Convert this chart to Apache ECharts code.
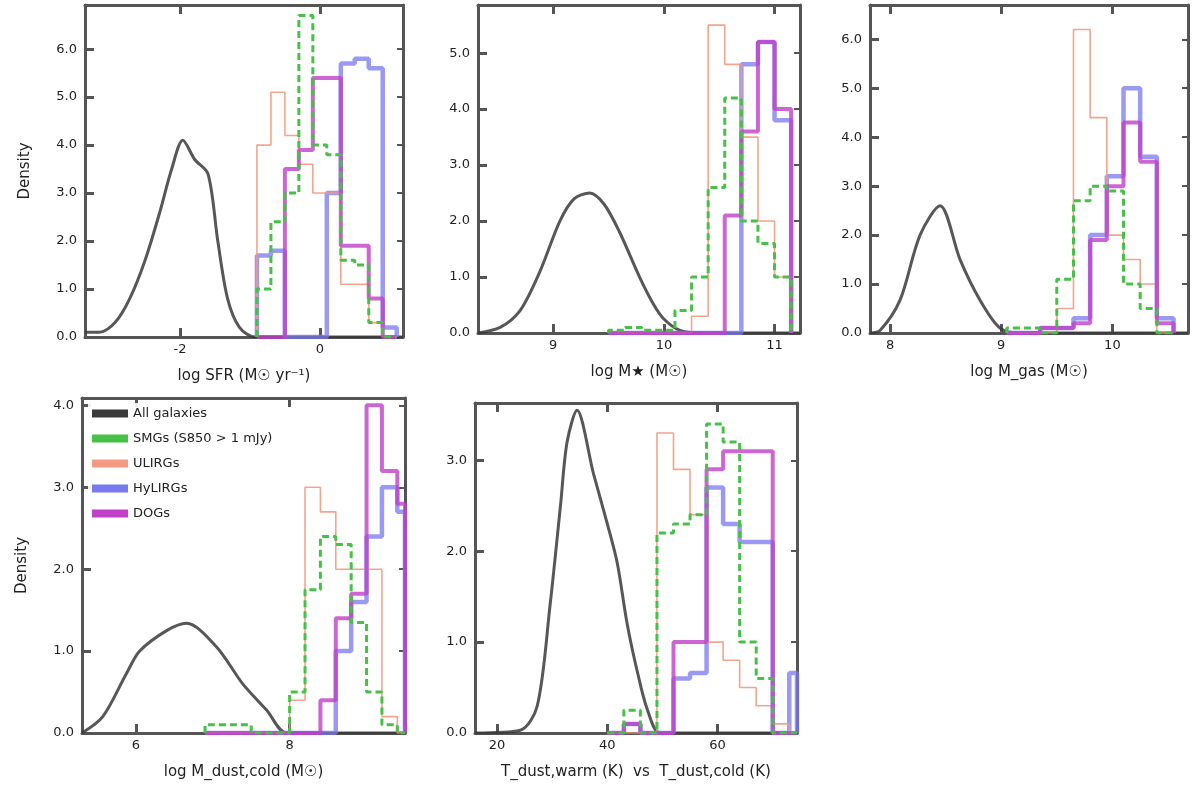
<!DOCTYPE html>
<html><head><meta charset="utf-8">
<script src="https://cdn.jsdelivr.net/npm/echarts@6/dist/echarts.min.js"></script>
<style>html,body{margin:0;padding:0;background:#fff}#c{width:1200px;height:804px}</style>
</head><body><div id="c"></div>
<script>
// ---------- DATA ----------
const seriesNames = ["All galaxies", "SMGs (S850 > 1 mJy)", "ULIRGs", "HyLIRGs", "DOGs"];

// Panel 1 : log SFR
const p1BlackX = [-3.36,-3.15,-2.93,-2.72,-2.5,-2.29,-2.12,-1.96,-1.79,-1.6,-1.46,-1.32,-1.15,-0.93,-0.5,0.0,0.5,1.19];
const p1BlackY = [0.1,0.1,0.3,0.8,1.6,2.6,3.5,4.1,3.7,3.4,2.0,0.8,0.2,0.0,0.0,0.0,0.0,0.0];
const p1Edges  = [-0.9,-0.7,-0.5,-0.3,-0.1,0.1,0.3,0.5,0.7,0.9,1.1];
const p1Green  = [1.0,2.4,3.0,6.7,4.0,3.8,1.6,1.5,0.3,0.0];
const p1Salmon = [4.0,5.1,4.2,3.6,3.0,3.0,1.1,1.1,0.3,0.0];
const p1Blue   = [1.7,1.8,0.0,0.0,0.0,3.0,5.7,5.8,5.6,0.2];
const p1Mag    = [0.0,0.0,3.5,3.9,5.4,5.4,1.9,1.9,0.8,0.0];

// Panel 2 : log M*
const p2BlackX = [8.32,8.52,8.70,8.88,9.06,9.19,9.33,9.46,9.60,9.78,9.91,10.0,10.14,10.32,10.8,11.23];
const p2BlackY = [0.0,0.1,0.4,1.1,2.0,2.4,2.5,2.3,1.8,1.0,0.5,0.25,0.05,0.0,0.0,0.0];
const p2Edges  = [9.5,9.65,9.8,9.95,10.1,10.25,10.4,10.55,10.7,10.85,11.0,11.15];
const p2Green  = [0.05,0.1,0.05,0.05,0.4,1.0,2.6,4.2,2.0,1.6,1.0];
const p2Salmon = [0.0,0.0,0.0,0.0,0.0,0.3,5.5,4.8,3.5,2.0,1.0];
const p2Blue   = [0.0,0.0,0.0,0.0,0.0,0.0,0.0,0.0,4.8,5.2,3.8];
const p2Mag    = [0.0,0.0,0.0,0.0,0.0,0.0,0.0,2.1,3.6,5.2,4.0];

// Panel 3 : log M_gas
const p3BlackX = [7.82,7.91,8.09,8.27,8.45,8.63,8.81,8.99,9.17,9.35,9.9,10.68];
const p3BlackY = [0.0,0.05,0.67,2.0,2.6,1.5,0.67,0.1,0.0,0.0,0.0,0.0];
const p3Edges  = [9.05,9.2,9.35,9.5,9.65,9.8,9.95,10.1,10.25,10.4,10.55];
const p3Green  = [0.1,0.1,0.0,1.1,2.7,3.0,2.9,1.0,0.5,0.0];
const p3Salmon = [0.0,0.0,0.0,0.5,6.2,4.4,2.0,1.5,1.0,0.0];
const p3Blue   = [0.0,0.0,0.1,0.1,0.3,2.0,3.2,5.0,3.6,0.3];
const p3Mag    = [0.0,0.0,0.1,0.1,0.2,1.9,3.0,4.3,3.5,0.2];

// Panel 4 : log M_dust,cold
const p4BlackX = [5.3,5.57,5.88,6.05,6.4,6.66,7.05,7.39,7.7,7.96,8.5,9.5];
const p4BlackY = [0.0,0.2,0.73,1.0,1.25,1.34,1.05,0.6,0.28,0.0,0.0,0.0];
const p4Edges  = [6.9,7.2,7.5,7.8,8.0,8.2,8.4,8.6,8.8,9.0,9.2,9.4,9.5];
const p4Green  = [0.1,0.1,0.0,0.0,0.5,1.75,2.4,2.3,1.35,0.5,0.1,0.0];
const p4Salmon = [0.0,0.0,0.0,0.0,0.4,3.0,2.7,2.0,2.0,2.0,0.2,0.0];
const p4Blue   = [0.0,0.0,0.0,0.0,0.0,0.0,0.0,1.0,1.6,2.4,3.0,2.7];
const p4Mag    = [0.0,0.0,0.0,0.0,0.0,0.0,0.4,1.4,1.7,4.0,3.2,2.8];

// Panel 5 : dust temperature
const p5BlackX = [16,24.2,27.3,29.6,31.5,32.7,34.5,37.5,40.0,41.8,43.6,45.5,47.3,49.6,60,74.4];
const p5BlackY = [0.0,0.03,0.3,1.4,2.5,3.2,3.55,2.85,2.3,1.87,1.2,0.66,0.25,0.0,0.0,0.0];
const p5Edges  = [40,43,46,49,52,55,58,61,64,67,70,73,74.4];
const p5Green  = [0.0,0.25,0.0,2.2,2.3,2.4,3.4,3.2,1.0,0.6,0.0,0.0];
const p5Salmon = [0.0,0.0,0.0,3.3,2.9,2.4,1.0,0.8,0.5,0.3,0.1,0.0];
const p5Blue   = [0.0,0.1,0.0,0.0,0.6,0.66,2.7,2.3,2.1,2.1,0.0,0.66];
const p5Mag    = [0.0,0.1,0.0,0.0,1.0,1.0,2.9,3.1,3.1,3.1,0.0,0.0];

// axis tick labels
const p1Ticks = [-2, 0];
const p2Ticks = [9, 10, 11];
const p3Ticks = [8, 9, 10];
const p4Ticks = [6, 8];
const p5Ticks = [20, 40, 60];

const xNames = ["log SFR (M\u2609 yr\u207B\u00B9)", "log M\u2605 (M\u2609)", "log M_gas (M\u2609)",
                "log M_dust,cold (M\u2609)", "T_dust,warm (K)  vs  T_dust,cold (K)"];

// ---------- LAYOUT ----------
const grids = [
  {left:85, top:5, width:318, height:332, xmin:-3.36, xmax:1.19, ymax:6.92, ticks:p1Ticks, ylab:true},
  {left:478, top:5, width:322, height:328, xmin:8.32, xmax:11.23, ymax:5.86, ticks:p2Ticks, ylab:false},
  {left:870, top:5, width:318, height:328, xmin:7.82, xmax:10.68, ymax:6.7, ticks:p3Ticks, ylab:false},
  {left:82, top:398, width:323, height:335, xmin:5.3, xmax:9.5, ymax:4.09, ticks:p4Ticks, ylab:true},
  {left:475, top:403, width:322, height:330, xmin:16, xmax:74.4, ymax:3.63, ticks:p5Ticks, ylab:false}
];
const panels = [
  [p1BlackX,p1BlackY,p1Edges,p1Green,p1Salmon,p1Blue,p1Mag],
  [p2BlackX,p2BlackY,p2Edges,p2Green,p2Salmon,p2Blue,p2Mag],
  [p3BlackX,p3BlackY,p3Edges,p3Green,p3Salmon,p3Blue,p3Mag],
  [p4BlackX,p4BlackY,p4Edges,p4Green,p4Salmon,p4Blue,p4Mag],
  [p5BlackX,p5BlackY,p5Edges,p5Green,p5Salmon,p5Blue,p5Mag]
];

function histPts(edges, vals){
  const pts = [[edges[0],0],[edges[0],vals[0]]];
  for (let i=1;i<vals.length;i++) pts.push([edges[i], vals[i]]);
  pts.push([edges[edges.length-1], 0]);
  return pts;
}

const frame = '#555';
const gridOpt=[], xAxes=[], yAxes=[], series=[];
grids.forEach((g,i)=>{
  gridOpt.push({left:g.left, top:g.top, width:g.width, height:g.height, show:false});
  const tickCommon = {show:true, inside:true, length:9, lineStyle:{color:frame, width:3}, customValues:g.ticks};
  xAxes.push({type:'value', gridIndex:i, position:'bottom', min:g.xmin, max:g.xmax,
    axisLine:{show:true, onZero:false, lineStyle:{color:frame, width:3}},
    axisTick:tickCommon,
    axisLabel:{show:true, customValues:g.ticks, color:'#222', fontSize:13, fontFamily:'DejaVu Sans', margin:6},
    splitLine:{show:false},
    name:xNames[i], nameLocation:'middle', nameGap:32,
    nameTextStyle:{color:'#222', fontSize:15, fontFamily:'DejaVu Sans'}});
  xAxes.push({type:'value', gridIndex:i, position:'top', min:g.xmin, max:g.xmax,
    axisLine:{show:true, onZero:false, lineStyle:{color:frame, width:3}},
    axisTick:tickCommon, axisLabel:{show:false}, splitLine:{show:false}});
  yAxes.push({type:'value', gridIndex:i, position:'left', min:0, max:g.ymax, interval:1,
    axisLine:{show:true, onZero:false, lineStyle:{color:frame, width:3}},
    axisTick:{show:true, inside:true, length:9, lineStyle:{color:frame, width:3}},
    axisLabel:{show:true, color:'#222', fontSize:13, fontFamily:'DejaVu Sans', showMaxLabel:false,
      formatter:v=>v.toFixed(1)},
    splitLine:{show:false},
    name:g.ylab?'Density':'', nameLocation:'middle', nameGap:52, nameRotate:90,
    nameTextStyle:{color:'#222', fontSize:15, fontFamily:'DejaVu Sans'}});
  yAxes.push({type:'value', gridIndex:i, position:'right', min:0, max:g.ymax, interval:1,
    axisLine:{show:true, onZero:false, lineStyle:{color:frame, width:3}},
    axisTick:{show:true, inside:true, length:6, lineStyle:{color:frame, width:2}},
    axisLabel:{show:false}, splitLine:{show:false}});
  const d = panels[i];
  const xi = 2*i, yi = 2*i;
  series.push({name:seriesNames[0], type:'line', xAxisIndex:xi, yAxisIndex:yi, smooth:0.3, symbol:'none',
    lineStyle:{color:'#3a3a3a', width:3, opacity:0.85}, itemStyle:{color:'#3a3a3a'},
    data:d[0].map((x,k)=>[x,d[1][k]]), z:3});
  series.push({name:seriesNames[1], type:'line', xAxisIndex:xi, yAxisIndex:yi, step:'end', symbol:'none',
    lineStyle:{color:'#46c046', width:3, type:[7,4]}, itemStyle:{color:'#46c046'},
    data:histPts(d[2], d[3]), z:5});
  series.push({name:seriesNames[2], type:'line', xAxisIndex:xi, yAxisIndex:yi, step:'end', symbol:'none',
    lineStyle:{color:'#f39a80', width:1.6, opacity:0.9}, itemStyle:{color:'#f39a80'},
    data:histPts(d[2], d[4]), z:4});
  series.push({name:seriesNames[3], type:'line', xAxisIndex:xi, yAxisIndex:yi, step:'end', symbol:'none',
    lineStyle:{color:'#7878f0', width:4.5, opacity:0.75}, itemStyle:{color:'#7878f0'},
    data:histPts(d[2], d[5]), z:3});
  series.push({name:seriesNames[4], type:'line', xAxisIndex:xi, yAxisIndex:yi, step:'end', symbol:'none',
    lineStyle:{color:'#c040c8', width:4, opacity:0.8}, itemStyle:{color:'#c040c8'},
    data:histPts(d[2], d[6]), z:4});
});

const chart = echarts.init(document.getElementById('c'), null, {renderer:'canvas'});
chart.setOption({
  animation:false,
  backgroundColor:'#fff',
  grid:gridOpt, xAxis:xAxes, yAxis:yAxes, series:series,
  legend:{show:true, data:seriesNames, left:88, top:403, orient:'vertical', itemGap:12, itemWidth:36, itemHeight:8,
    icon:'rect', padding:[4,6,4,4],
    textStyle:{color:'#222', fontSize:13, fontFamily:'DejaVu Sans'},
    backgroundColor:'rgba(255,255,255,0.9)'}
});
</script></body></html>
